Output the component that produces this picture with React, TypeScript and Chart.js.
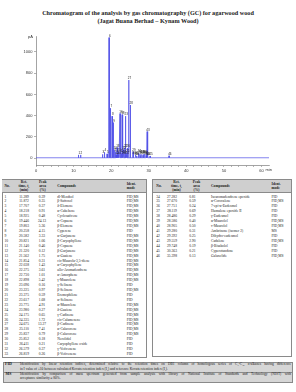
import React, { useEffect, useRef } from "react";
import { Chart, registerables } from "chart.js";
Chart.register(...registerables);

// ---------- data ----------
const peakNo = [1,2,3,4,5,6,7,8,9,10,11,12,13,14,15,16,17,18,19,20,21,22,23,24,25,26,27,28,29,30,31,32,33,34,35,36,37,38,39,40,41,42,43,44,45,46];
const retTimes = [11.289, 11.872, 17.707, 18.218, 18.925, 19.446, 19.803, 20.258, 20.582, 20.821, 21.140, 21.320, 21.562, 21.854, 22.038, 22.375, 22.730, 22.898, 23.096, 23.225, 23.375, 23.617, 23.775, 23.980, 24.175, 24.335, 24.675, 25.110, 25.837, 25.852, 26.411, 26.579, 26.819, 27.282, 27.670, 27.751, 28.119, 28.486, 28.586, 28.905, 29.280, 29.392, 29.559, 29.748, 30.363, 35.398];
const peakAreas = [0.39, 0.35, 0.37, 0.91, 0.48, 24.13, 5.36, 4.15, 3.33, 1.06, 0.46, 0.12, 1.75, 0.31, 1.43, 3.61, 1.01, 5.42, 0.16, 0.97, 0.59, 1.68, 4.91, 0.27, 0.65, 1.72, 13.27, 7.41, 0.79, 0.18, 0.21, 0.37, 0.26, 0.81, 0.59, 0.24, 0.69, 0.29, 0.40, 0.50, 0.31, 0.25, 2.90, 0.19, 0.21, 0.13];
const compounds = ["dl-Menthol", "β-Safrosol", "δ-Elemene", "α-Cubebene", "Cyclosativene", "α-Copaene", "β-Elemene", "Cyperene", "α-Gurjunene", "β-Caryophyllene", "β-Copaene", "β-Gurjunene", "α-Guaiene", "cis-Muurola-3,5-diene", "α-Caryophyllene", "allo-Aromadendrene", "α-Amorphene", "γ-Muurolene", "γ-Selinene", "β-Selinene", "Eremophilene", "α-Selinene", "α-Muurolene", "δ-Guaiene", "γ-Cadinene", "cis-Calamenene", "β-Cadinene", "α-Calacorene", "β-Calacorene", "Nerolidol", "Caryophyllene oxide", "γ-Vetivenene", "β-Vetivenene", "Isoaromadendrene epoxide", "α-Corocalene", "7-epi-α-Eudesmol", "Humulene epoxide II", "γ-Eudesmol", "α-Muurolol", "τ-Muurolol", "Ambrinone (isomer 2)", "Dihydro-eudesmol", "Cadalene", "β-Bisabolol", "Cyperotundone", "Galaxolide"];
const identModes = ["FID,MS", "FID,MS", "FID,MS", "FID,MS", "FID,MS", "FID,MS", "FID,MS", "FID", "FID,MS", "FID,MS", "FID,MS", "FID,MS", "FID,MS", "FID,MS", "FID,MS", "FID,MS", "FID,MS", "FID,MS", "FID", "FID,MS", "FID", "FID", "FID,MS", "FID,MS", "FID,MS", "FID,MS", "FID,MS", "FID,MS", "FID,MS", "FID", "FID", "FID", "FID", "FID", "FID,MS", "FID", "FID", "FID", "FID,MS", "FID,MS", "MS", "FID", "FID,MS", "FID", "FID", "FID,MS"];
// peak heights (pA)
const peakHeights = [30, 30, 35, 55, 40, 1135, 470, 395, 335, 80, 60, 30, 100, 30, 60, 420, 45, 410, 30, 75, 40, 95, 395, 30, 50, 95, 735, 500, 60, 30, 20, 30, 20, 45, 40, 25, 35, 25, 35, 40, 25, 20, 250, 20, 20, 22];
const baselinePA = 3;
const runStart = 0;
const runEnd = 62;
const yTickValues = [0, 200, 400, 600, 800, 1000];
const xTickValues = [0,2,4,6,8,10,12,14,16,18,20,22,24,26,28,30,32,34,36,38,40,42,44,46,48,50,52,54,56,58,60];
const xLabelValues = [0, 10, 20, 30, 40, 50, 60];

const LEFT_ROWS = 33;
const ROW0 = 197;
const ROW_STEP = 4.92;
const FS = 3.6;

const serif = '"Liberation Serif", "Times New Roman", serif';
const sans = '"Liberation Sans", Arial, sans-serif';

function buildTrace() {
  const pts: { x: number; y: number }[] = [{ x: runStart, y: baselinePA }];
  const w = 0.05;
  retTimes.forEach((t, i) => {
    pts.push({ x: t - w, y: baselinePA });
    pts.push({ x: t, y: peakHeights[i] });
    pts.push({ x: t + w, y: baselinePA });
  });
  pts.push({ x: runEnd, y: baselinePA });
  pts.sort((a, b) => a.x - b.x);
  return pts;
}

const peakLabelPlugin = {
  id: "peakLabels",
  afterDatasetsDraw(chart: any) {
    const { ctx, scales, chartArea } = chart;
    const x = scales.x, y = scales.y;
    ctx.save();
    ctx.fillStyle = "#222";
    ctx.font = `3px ${sans}`;
    ctx.textAlign = "center";
    ctx.textBaseline = "bottom";
    peakNo.forEach((n, i) => {
      ctx.fillText(String(n), x.getPixelForValue(retTimes[i]) + 0.8, y.getPixelForValue(peakHeights[i]) - 0.3);
    });
    ctx.font = `4px ${sans}`;
    ctx.fillStyle = "#333";
    ctx.textAlign = "right";
    ctx.textBaseline = "middle";
    ctx.fillText("pA", chartArea.left - 3, chartArea.top + 0.5);
    ctx.textAlign = "left";
    ctx.textBaseline = "top";
    ctx.fillText("min", x.getPixelForValue(60) + 4, chartArea.bottom + 3);
    ctx.restore();
  },
};

function Txt(props: { x: number; y: number; children: any; align?: "left" | "center"; size?: number; bold?: boolean; lh?: number }) {
  const { x, y, children, align = "left", size = FS, bold = false, lh = 4.3 } = props;
  return (
    <div
      style={{
        position: "absolute",
        left: x,
        top: y - lh / 2,
        fontSize: size,
        lineHeight: `${lh}px`,
        whiteSpace: "nowrap",
        fontWeight: bold ? 700 : 400,
        transform: align === "center" ? "translateX(-50%)" : undefined,
        textAlign: align,
      }}
    >
      {children}
    </div>
  );
}

const subStyle = { fontSize: 2.4, verticalAlign: "baseline", position: "relative", top: 0.8 } as any;

function TableBox(props: { x0: number; x1: number; y1: number; cols: { no: number; ret: number; retH: number; area: number; areaH: number; comp: number; ident: number }; rows: number[] }) {
  const { x0, x1, y1, cols, rows } = props;
  const top = 179.3;
  return (
    <>
      <div style={{ position: "absolute", left: x0, top, width: x1 - x0, height: y1 - top, border: "0.6px solid #8a8a8a", boxSizing: "border-box" }} />
      <div style={{ position: "absolute", left: x0 + 0.6, top: top + 0.6, width: x1 - x0 - 1.2, height: 193.3 - top - 0.6, background: "#cfcfcf", borderBottom: "0.6px solid #8a8a8a", boxSizing: "border-box" }} />
      <Txt x={cols.no} y={186} bold>No.</Txt>
      <Txt x={cols.retH} y={181.7} bold align="center">Ret.</Txt>
      <Txt x={cols.retH} y={186} bold align="center">time, t<sub style={subStyle}>r</sub></Txt>
      <Txt x={cols.retH} y={190.3} bold align="center">(min)</Txt>
      <Txt x={cols.areaH} y={181.7} bold align="center">Peak</Txt>
      <Txt x={cols.areaH} y={186} bold align="center">area</Txt>
      <Txt x={cols.areaH} y={190.3} bold align="center">(%)</Txt>
      <Txt x={cols.comp} y={186} bold>Compounds</Txt>
      <Txt x={cols.ident} y={184} bold>Ident.</Txt>
      <Txt x={cols.ident} y={188.3} bold>mode</Txt>
      {rows.map((i, k) => {
        const cy = ROW0 + k * ROW_STEP;
        return (
          <React.Fragment key={i}>
            <Txt x={cols.no} y={cy} lh={ROW_STEP}>{peakNo[i]}</Txt>
            <Txt x={cols.ret} y={cy} lh={ROW_STEP} align="center">{retTimes[i].toFixed(3)}</Txt>
            <Txt x={cols.area} y={cy} lh={ROW_STEP} align="center">{peakAreas[i].toFixed(2)}</Txt>
            <Txt x={cols.comp} y={cy} lh={ROW_STEP}>{compounds[i]}</Txt>
            <Txt x={cols.ident} y={cy} lh={ROW_STEP}>{identModes[i]}</Txt>
          </React.Fragment>
        );
      })}
    </>
  );
}

const justLine = { position: "absolute", left: 20, width: 271, fontSize: 3.5, lineHeight: "4.6px", textAlign: "justify", textAlignLast: "justify", whiteSpace: "nowrap", overflow: "visible" } as any;

export default function App() {
  const ref = useRef<HTMLCanvasElement>(null);
  useEffect(() => {
    const canvas = ref.current!;
    const chart = new Chart(canvas, {
      type: "line",
      data: {
        datasets: [
          {
            data: buildTrace(),
            borderColor: "#4b4be6",
            borderWidth: 0.7,
            pointRadius: 0,
            tension: 0,
            fill: false,
          },
        ],
      },
      options: {
        animation: false,
        responsive: false,
        devicePixelRatio: 1,
        events: [],
        layout: { padding: { left: 0, right: 27, top: 6, bottom: 0 } },
        plugins: { legend: { display: false }, tooltip: { enabled: false } },
        scales: {
          x: {
            type: "linear",
            min: runStart,
            max: runEnd,
            afterBuildTicks: (s: any) => { s.ticks = xTickValues.map((v) => ({ value: v })); },
            afterFit: (s: any) => { s.height = 10; },
            grid: { drawOnChartArea: false, drawTicks: true, tickLength: 2, color: "#666", lineWidth: 0.5 },
            border: { display: true, color: "#666", width: 0.6 },
            ticks: {
              autoSkip: false,
              maxRotation: 0,
              padding: 1,
              color: "#333",
              font: { size: 4, family: sans },
              callback: (v: any) => (xLabelValues.includes(Number(v)) ? String(v) : ""),
            },
          },
          y: {
            min: -65,
            max: 1150,
            afterBuildTicks: (s: any) => { s.ticks = yTickValues.map((v) => ({ value: v })); },
            afterFit: (s: any) => { s.width = 36; },
            grid: { drawOnChartArea: false, drawTicks: true, tickLength: 2, color: "#666", lineWidth: 0.5 },
            border: { display: true, color: "#666", width: 0.6 },
            ticks: { padding: 1.5, color: "#333", font: { size: 4, family: sans }, callback: (v: any) => String(v) },
          },
        },
      },
      plugins: [peakLabelPlugin],
    } as any);
    return () => chart.destroy();
  }, []);

  const leftRows = peakNo.slice(0, LEFT_ROWS).map((_, i) => i);
  const rightRows = peakNo.slice(LEFT_ROWS).map((_, i) => i + LEFT_ROWS);

  return (
    <div style={{ position: "relative", width: 296, height: 392, background: "#fff", fontFamily: serif, color: "#1a1a1a", overflow: "hidden" }}>
      <style>{"body{margin:0;}"}</style>
      <Txt x={148} y={12.7} align="center" size={6.2} bold lh={7}>Chromatogram of the analysis by gas chromatography (GC) for agarwood wood</Txt>
      <Txt x={148} y={20} align="center" size={6.2} bold lh={7}>(Jagat Buana Berhad – Kynam Wood)</Txt>
      <canvas ref={ref} width={296} height={145} style={{ position: "absolute", left: 0, top: 30, width: 296, height: 145 }} />
      <TableBox x0={1.7} x1={146.7} y1={358} rows={leftRows}
        cols={{ no: 4.5, ret: 24, retH: 24, area: 42, areaH: 42.7, comp: 57.3, ident: 126.7 }} />
      <TableBox x0={152} x1={292} y1={357.5} rows={rightRows}
        cols={{ no: 156.3, ret: 172, retH: 176.5, area: 192.5, areaH: 196.5, comp: 211, ident: 271.5 }} />
      <div style={{ position: "absolute", left: 2.7, top: 361.7, width: 290.3, height: 21, background: "#d6d6d6", border: "0.6px solid #8a8a8a", boxSizing: "border-box" }} />
      <div style={{ position: "absolute", left: 2.7, top: 371.8, width: 290.3, height: 0, borderTop: "0.5px solid #8a8a8a" }} />
      <Txt x={5} y={364.7} bold size={3.9} lh={4.6}>FID</Txt>
      <Txt x={5.5} y={374} bold size={3.9} lh={4.6}>MS</Txt>
      <div style={{ ...justLine, top: 362.4 }}>
        Identification by linear retention indices, determined relative to the retention times on DB1 column of homologous series of C<sub style={subStyle}>7</sub>-C<sub style={subStyle}>30</sub> n-alkanes having difference
      </div>
      <Txt x={20} y={369.3} size={3.5} lh={4.6}>in I value of ±10 between calculated Kovats retention index (I<sub style={subStyle}>c</sub>) and reference Kovats retention index (I<sub style={subStyle}>r</sub>).</Txt>
      <div style={{ ...justLine, top: 371.7 }}>
        Identification by comparison of mass spectrum generated from sample analysis with library of National Institute of Standards and Technology (NIST) with
      </div>
      <Txt x={20} y={378.7} size={3.5} lh={4.6}>acceptance similarity ≥ 80%.</Txt>
    </div>
  );
}
